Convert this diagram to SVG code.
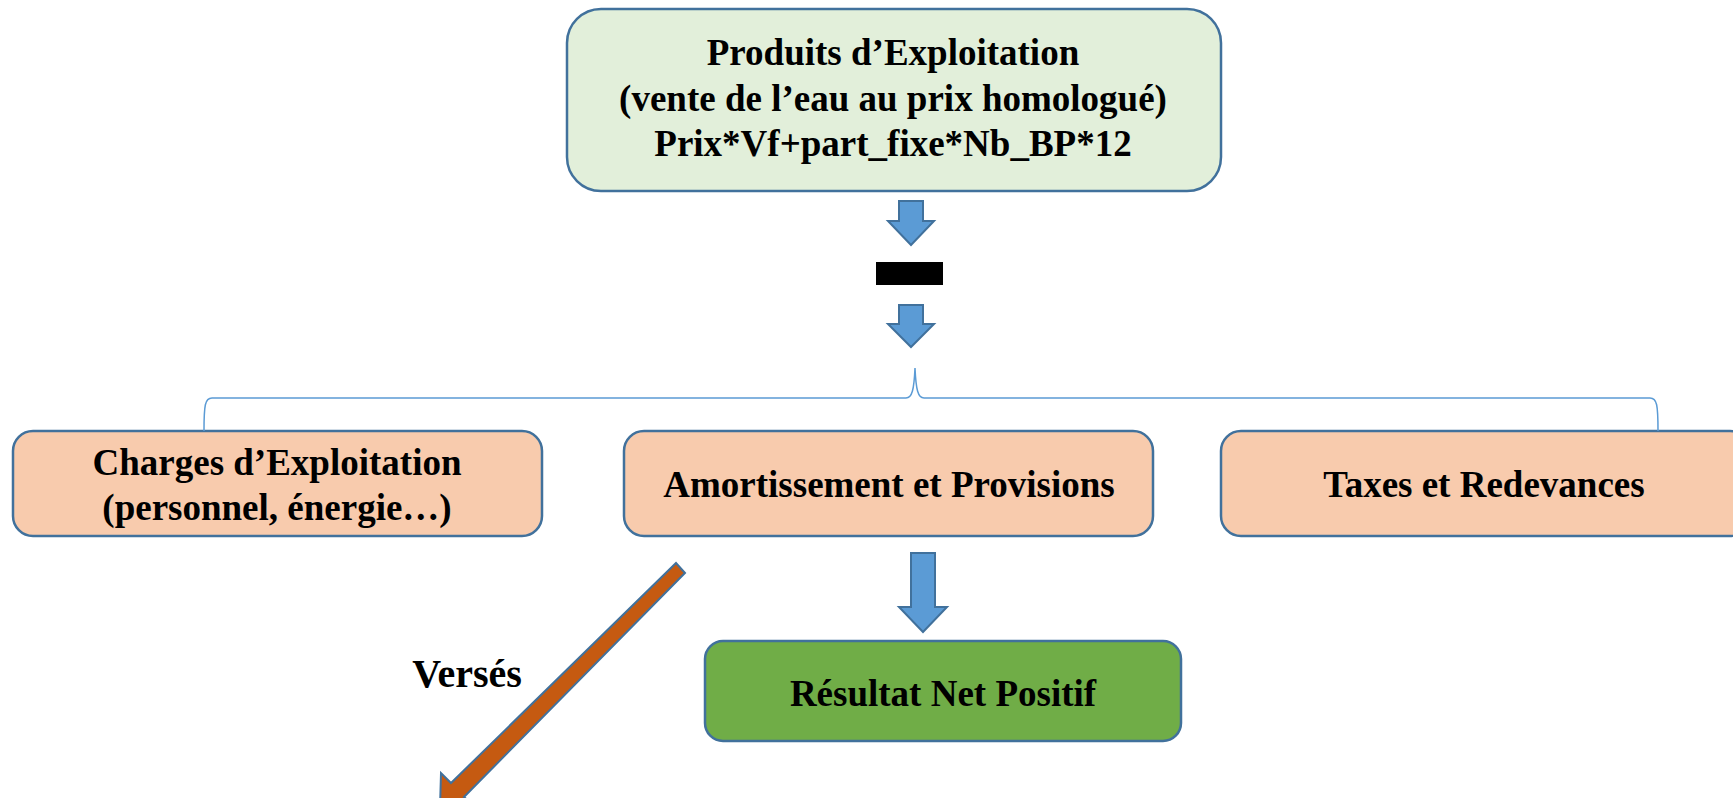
<svg xmlns="http://www.w3.org/2000/svg" width="1733" height="798" viewBox="0 0 1733 798">
<style>
.t{font-family:"Liberation Serif","Times New Roman",serif;font-weight:bold;font-size:37px;fill:#000;text-anchor:middle}
.box{stroke:#41719C;stroke-width:2.5}
.green{fill:#E2EFDA}
.peach{fill:#F8CBAD}
.res{fill:#70AD47}
.barrow{fill:#5B9BD5;stroke:#41719C;stroke-width:2}
</style>
<rect width="1733" height="798" fill="#fff"/>
<g id="produits">
<rect class="box green" x="567" y="9" width="654" height="182" rx="34"/>
<text class="t" x="893" y="65">Produits d’Exploitation</text>
<text class="t" x="893" y="111">(vente de l’eau au prix homologué)</text>
<text class="t" x="893" y="156">Prix*Vf+part_fixe*Nb_BP*12</text>
</g>
<g id="moins">
<rect x="876" y="262" width="67" height="23" fill="#000"/>
</g>
<g id="charges">
<rect class="box peach" x="13" y="431" width="529" height="105" rx="20"/>
<text class="t" x="277" y="475">Charges d’Exploitation</text>
<text class="t" x="277" y="520">(personnel, énergie…)</text>
</g>
<g id="amortissement">
<rect class="box peach" x="624" y="431" width="529" height="105" rx="20"/>
<text class="t" x="889" y="497">Amortissement et Provisions</text>
</g>
<g id="taxes">
<rect class="box peach" x="1221" y="431" width="529" height="105" rx="20"/>
<text class="t" x="1484" y="497">Taxes et Redevances</text>
</g>
<g id="resultat">
<rect class="box res" x="705" y="641" width="476" height="100" rx="18"/>
<text class="t" x="943" y="706">Résultat Net Positif</text>
</g>
<g id="connectors">
<path class="barrow" d="M899,201 H923 V221 H934 L911,245 L888,221 H899 Z"/>
<path class="barrow" d="M899,305 H923 V324 H934 L911,347 L888,324 H899 Z"/>
<path d="M204,431 C204,405 205,398 212,398 L906,398 C912,398 914,390 915,368 C916,390 918,398 924,398 L1650,398 C1657,398 1658,405 1658,431" fill="none" stroke="#5B9BD5" stroke-width="1.5"/>
<path class="barrow" d="M911,553 H935 V607 H947 L923,632 L899,607 H911 Z"/>
<path d="M685,573 L676,563 L451,783 L441,773 L440,808 L475,807 L464,797 Z" fill="#C55A11" stroke="#41719C" stroke-width="2"/>
<text class="t" x="467" y="687" style="font-size:40px">Versés</text>
</g>
</svg>
